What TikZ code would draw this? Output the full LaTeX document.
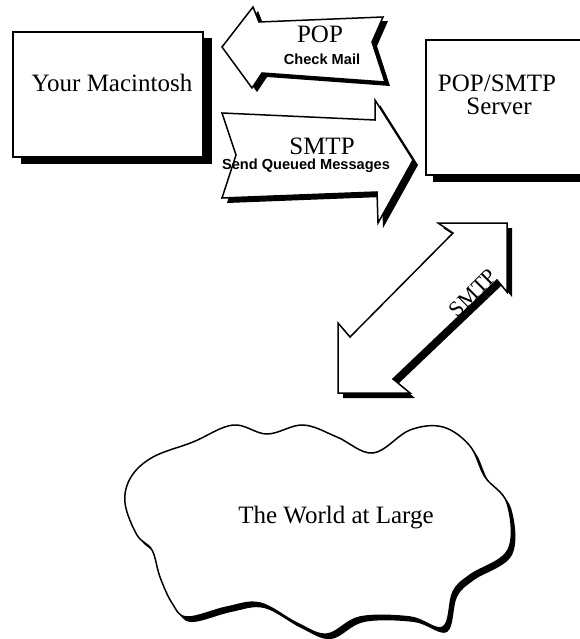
\documentclass[tikz,border=0pt]{standalone}
\usepackage{fontspec}
\setmainfont{Liberation Serif}
\newfontfamily\smallsans{Liberation Sans}
\begin{document}
\begin{tikzpicture}[x=1pt,y=-1pt,
  outline/.style={draw=black,line width=1.5pt,fill=white,line join=miter},
  shade/.style={fill=black,draw=none},
  bigtxt/.style={font=\fontsize{25}{28}\selectfont,inner sep=0pt,anchor=base},
  smalltxt/.style={font=\smallsans\bfseries\fontsize{14.6}{16}\selectfont,inner sep=0pt,anchor=base}]
\useasboundingbox (0,0) rectangle (579,639);
% Macintosh box
\fill[shade] (21,38) rectangle (212,164);
\draw[outline] (13,32) rectangle (203,157);
\node[bigtxt] (mac) at (112,92) {Your Macintosh};
% Server box
\fill[shade] (433,46) rectangle (590,182);
\draw[outline] (426,40) rectangle (590,175);
\node[bigtxt] (srv1) at (497,92) {POP/SMTP};
\node[bigtxt] (srv2) at (499,115) {Server};
% POP arrow (pointing left)
\fill[shade,shift={(5,4)}] (222,47) -- (253,7) -- (259,22) -- (383,17) -- (372,42) -- (385,82) -- (262,73) -- (252,88) -- cycle;
\draw[outline] (222,47) -- (253,7) -- (259,22) -- (383,17) -- (372,42) -- (385,82) -- (262,73) -- (252,88) -- cycle;
\node[bigtxt] (pop) at (320,43) {POP};
\node[smalltxt] (chk) at (322,65) {Check Mail};
% SMTP arrow (pointing right)
\fill[shade,shift={(5,5)}] (222,113) -- (375,120) -- (375,100) -- (413,160) -- (378,223) -- (377,192) -- (222,198) -- (236,155) -- cycle;
\draw[outline] (222,113) -- (375,120) -- (375,100) -- (413,160) -- (378,223) -- (377,192) -- (222,198) -- (236,155) -- cycle;
\node[bigtxt] (smtp) at (322,155) {SMTP};
\node[smalltxt] (snd) at (306,170) {Send Queued Messages};
% diagonal double arrow
\fill[shade,shift={(5,5)}] (438,223) -- (507,223) -- (507,292) -- (497,280) -- (393,379) -- (410,393) -- (338,393) -- (338,323) -- (350,337) -- (453,233) -- cycle;
\draw[outline] (438,223) -- (507,223) -- (507,292) -- (497,280) -- (393,379) -- (410,393) -- (338,393) -- (338,323) -- (350,337) -- (453,233) -- cycle;
\node[font=\fontsize{22}{24}\selectfont,inner sep=0pt,rotate=45] (dsmtp) at (473,293) {SMTP};
% cloud
\def\cloudpts{(125,503) (131,477) (153,457) (193,442) (233,425) (267,434) (303,425) (337,437) (373,453) (410,430) (443,427) (470,446) (485,477) (507,503) (508,550) (470,575) (453,592) (443,627) (410,617) (360,617) (327,634) (297,623) (260,603) (227,607) (187,617) (172,603) (160,577) (152,550) (137,535)}
\fill[shade,shift={(4,5)}] plot[smooth cycle,tension=0.6] coordinates {\cloudpts};
\draw[outline] plot[smooth cycle,tension=0.6] coordinates {\cloudpts};
\node[bigtxt] (world) at (336,523) {The World at Large};
\end{tikzpicture}
\end{document}
